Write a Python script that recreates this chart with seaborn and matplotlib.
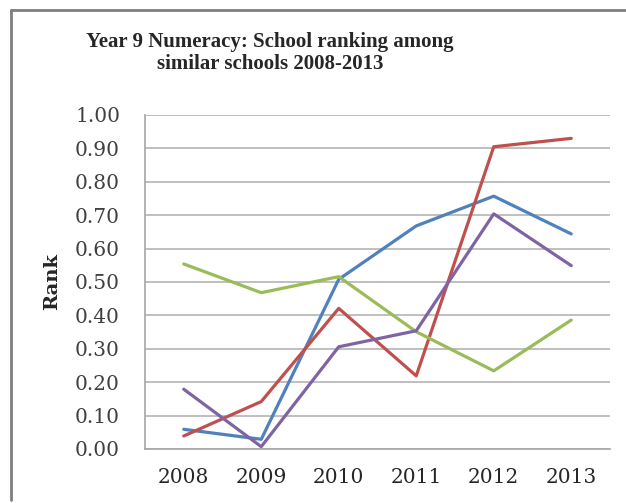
import matplotlib
matplotlib.use("Agg")
import matplotlib.pyplot as plt
import seaborn as sns
import pandas as pd
from matplotlib.lines import Line2D

years = ["2008", "2009", "2010", "2011", "2012", "2013"]
series_a = [0.059, 0.029, 0.508, 0.668, 0.757, 0.644]   # blue
series_b = [0.039, 0.142, 0.421, 0.219, 0.905, 0.930]   # red
series_c = [0.554, 0.468, 0.516, 0.351, 0.234, 0.386]   # green
series_d = [0.179, 0.007, 0.306, 0.354, 0.704, 0.549]   # purple
names = ["Series 1", "Series 2", "Series 3", "Series 4"]
colors = ["#4F81BD", "#C0504D", "#9BBB59", "#8064A2"]
yticks = [0.0, 0.1, 0.2, 0.3, 0.4, 0.5, 0.6, 0.7, 0.8, 0.9, 1.0]

rows = []
for name, vals in zip(names, [series_a, series_b, series_c, series_d]):
    for yr, v in zip(years, vals):
        rows.append({"Year": yr, "Rank": v, "Series": name})
df = pd.DataFrame(rows)

sns.set_theme(style="white")
plt.rcParams["font.family"] = ["DejaVu Serif", "Liberation Serif"]

fig = plt.figure(figsize=(6.26, 5.03), dpi=100)
ax = fig.add_axes([145/626, 1-449/503, (610-145)/626, (449-115)/503])

sns.lineplot(data=df, x="Year", y="Rank", hue="Series", palette=colors,
             hue_order=names, sort=False, linewidth=2.3, legend=False, ax=ax)

ax.set_xlim(-0.5, 5.5)
ax.set_ylim(0, 1.0)
ax.set_yticks(yticks)
ax.set_yticklabels([f"{t:.2f}" for t in yticks])
ax.yaxis.grid(True, color="#BFBFBF", linewidth=1.4)
ax.set_axisbelow(True)
for s in ["top", "right"]:
    ax.spines[s].set_visible(False)
for s in ["left", "bottom"]:
    ax.spines[s].set_color("#A6A6A6")
    ax.spines[s].set_linewidth(1.2)
ax.tick_params(axis="both", labelsize=14.5, length=0)
ax.tick_params(axis="x", labelcolor="#262626", pad=14)
ax.tick_params(axis="y", labelcolor="#404040", pad=18)
ax.set_xlabel("")
ax.set_ylabel("Rank", fontsize=14, fontweight="bold", color="#262626", labelpad=10)

fig.text(270/626, 1-53/503, "Year 9 Numeracy: School ranking among\nsimilar schools 2008-2013",
         ha="center", va="center", fontsize=15, fontweight="bold", color="#262626",
         linespacing=1.12, family=["Liberation Serif", "DejaVu Serif"])

fig.add_artist(Line2D([11/626, 11/626], [1-10/503, 1-500/503], transform=fig.transFigure,
                      color="#7F7F7F", linewidth=2))
fig.add_artist(Line2D([11/626, 1.0], [1-10/503, 1-10/503], transform=fig.transFigure,
                      color="#7F7F7F", linewidth=2))

fig.savefig("out.png", dpi=100, facecolor="white")
